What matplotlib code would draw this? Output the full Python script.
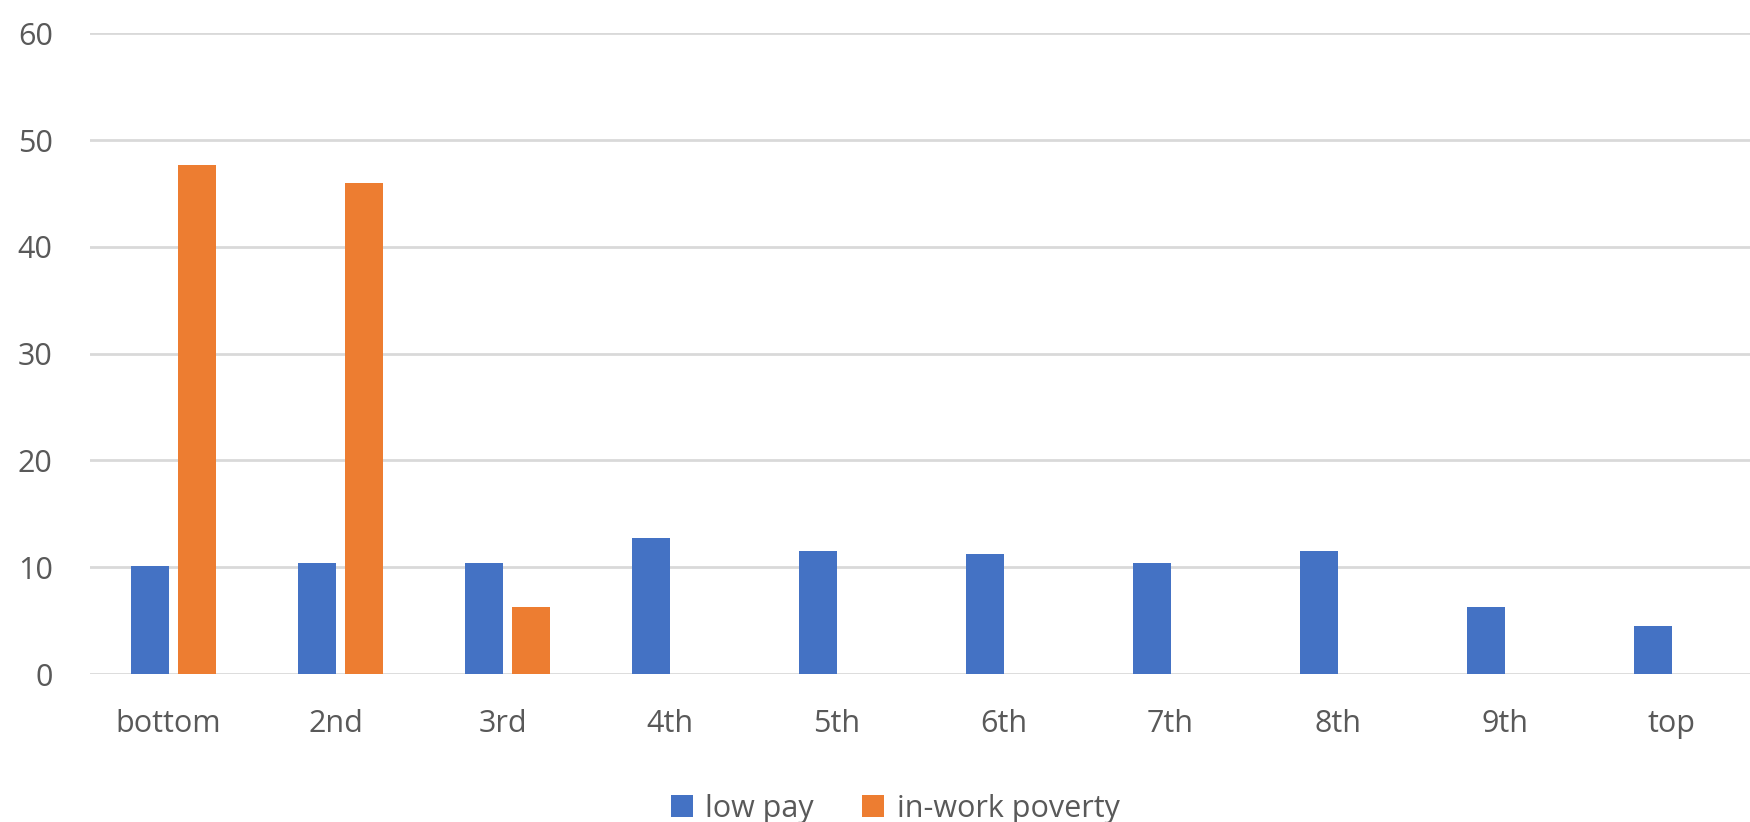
import matplotlib
matplotlib.use("Agg")
import matplotlib.pyplot as plt
import matplotlib.transforms as mtransforms
import numpy as np
from matplotlib.patches import Patch

categories = ["bottom", "2nd", "3rd", "4th", "5th", "6th", "7th", "8th", "9th", "top"]
low_pay = [10.1, 10.4, 10.4, 12.7, 11.5, 11.2, 10.4, 11.5, 6.3, 4.5]
in_work_poverty = [47.7, 46.0, 6.3, 0, 0, 0, 0, 0, 0, 0]
yticks = [0, 10, 20, 30, 40, 50, 60]

blue = "#4472C4"
orange = "#ED7D31"
text_color = "#595959"
grid_color = "#D9D9D9"

plt.rcParams['font.family'] = ['Open Sans', 'DejaVu Sans']

fig = plt.figure(figsize=(17.5, 8.22), dpi=100)
ax = fig.add_axes([0.0515, 1 - 674 / 822, 1670 / 1750, (674 - 33.3) / 822])

x = np.arange(len(categories))
w = 0.2275
off = 0.1407
ax.bar(x - off, low_pay, width=w, color=blue, zorder=3)
ax.bar(x + off, in_work_poverty, width=w, color=orange, zorder=3)

ax.set_xlim(-0.5, len(categories) - 0.5)
ax.set_ylim(0, 60)
ax.set_yticks(yticks)
ax.set_yticklabels([str(v) for v in yticks])
ax.set_xticks(x)
ax.set_xticklabels(categories)

for s in ax.spines.values():
    s.set_visible(False)
ax.yaxis.grid(True, color=grid_color, linewidth=2.0, zorder=0)
ax.tick_params(axis='both', length=0, labelsize=22, labelcolor=text_color)
ax.tick_params(axis='y', pad=27)
ax.tick_params(axis='x', pad=25)

shift = mtransforms.ScaledTranslation(-5 / 100, 0, fig.dpi_scale_trans)
for lbl in ax.get_xticklabels():
    lbl.set_transform(lbl.get_transform() + shift)

handles = [Patch(facecolor=blue, label="low pay"), Patch(facecolor=orange, label="in-work poverty")]
fig.legend(handles=handles, loc='center', bbox_to_anchor=(0.5115, 0.016), ncol=2,
           frameon=False, fontsize=22, labelcolor=text_color, handlelength=0.72,
           handleheight=0.72, handletextpad=0.4, columnspacing=1.6,
           borderpad=0, borderaxespad=0)

fig.savefig("out.png", dpi=100, facecolor="white")
